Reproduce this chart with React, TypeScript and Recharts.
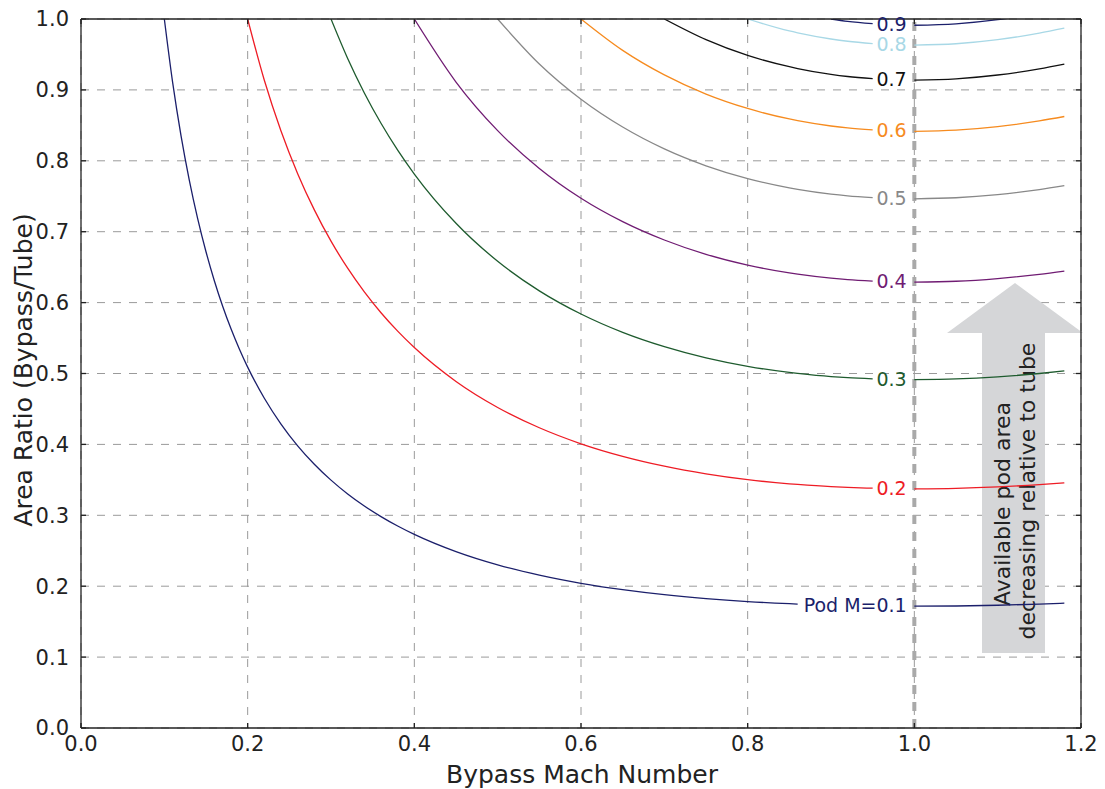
import { LineChart, Line, XAxis, YAxis, CartesianGrid, ReferenceLine, ReferenceArea, ReferenceDot } from 'recharts'

const n = null

// bypass Mach number grid (x)
const mach = [
  0.1, 0.11, 0.12, 0.13, 0.14, 0.15, 0.16, 0.17, 0.18, 0.19,
  0.2, 0.22, 0.24, 0.26, 0.28, 0.3, 0.32, 0.34, 0.36, 0.38,
  0.4, 0.45, 0.5, 0.55, 0.6, 0.65, 0.7, 0.75, 0.8, 0.85,
  0.86, 0.9, 0.92, 0.95, 0.975, 1.0, 1.05, 1.1, 1.15, 1.18,
]

// area ratio (bypass/tube) for each pod Mach number, null = no line / label gap
const pod01 = [
  1.0, 0.9102, 0.8355, 0.7724, 0.7184, 0.6717, 0.6309, 0.5949, 0.563, 0.5346,
  0.509, 0.4651, 0.4287, 0.398, 0.372, 0.3496, 0.3301, 0.3131, 0.2982, 0.2849,
  0.2731, 0.2488, 0.2301, 0.2156, 0.2041, 0.1951, 0.188, 0.1825, 0.1783, 0.1753,
  0.1748, n, n, n, n, 0.1718, 0.1721, 0.1731, 0.1748, 0.176,
]
const pod02 = [
  n, n, n, n, n, n, n, n, n, n,
  1.0, 0.9136, 0.8421, 0.7819, 0.7308, 0.6867, 0.6485, 0.6151, 0.5857, 0.5597,
  0.5366, 0.4888, 0.4521, 0.4235, 0.4009, 0.3832, 0.3693, 0.3585, 0.3503, 0.3444,
  0.3435, 0.3404, 0.3393, 0.3382, n, 0.3374, 0.3381, 0.3401, 0.3433, 0.3458,
]
const pod03 = [
  n, n, n, n, n, n, n, n, n, n,
  n, n, n, n, n, 1.0, 0.9443, 0.8957, 0.8529, 0.815,
  0.7813, 0.7119, 0.6583, 0.6166, 0.5839, 0.558, 0.5378, 0.522, 0.5101, 0.5015,
  0.5002, 0.4957, 0.4941, 0.4925, n, 0.4914, 0.4924, 0.4953, 0.5, 0.5036,
]
const pod04 = [
  n, n, n, n, n, n, n, n, n, n,
  n, n, n, n, n, n, n, n, n, n,
  1.0, 0.9111, 0.8426, 0.7892, 0.7472, 0.7142, 0.6883, 0.6681, 0.6529, 0.6419,
  0.6402, 0.6345, 0.6324, 0.6303, n, 0.6289, 0.6301, 0.6339, 0.6399, 0.6445,
]
const pod05 = [
  n, n, n, n, n, n, n, n, n, n,
  n, n, n, n, n, n, n, n, n, n,
  n, n, 1.0, 0.9366, 0.8868, 0.8476, 0.8168, 0.793, 0.7749, 0.7618,
  0.7597, 0.753, 0.7506, 0.748, n, 0.7464, 0.7479, 0.7523, 0.7594, 0.7649,
]
const pod06 = [
  n, n, n, n, n, n, n, n, n, n,
  n, n, n, n, n, n, n, n, n, n,
  n, n, n, n, 1.0, 0.9557, 0.9211, 0.8941, 0.8738, 0.859,
  0.8567, 0.8491, 0.8463, 0.8435, n, 0.8416, 0.8433, 0.8483, 0.8563, 0.8625,
]
const pod07 = [
  n, n, n, n, n, n, n, n, n, n,
  n, n, n, n, n, n, n, n, n, n,
  n, n, n, n, n, n, 1.0, 0.9708, 0.9486, 0.9327,
  0.9301, 0.9219, 0.9189, 0.9158, n, 0.9137, 0.9156, 0.921, 0.9297, 0.9364,
]
const pod08 = [
  n, n, n, n, n, n, n, n, n, n,
  n, n, n, n, n, n, n, n, n, n,
  n, n, n, n, n, n, n, n, 1.0, 0.9831,
  0.9805, 0.9718, 0.9686, 0.9653, n, 0.9632, 0.9651, 0.9708, 0.9801, 0.9871,
]
const pod09 = [
  n, n, n, n, n, n, n, n, n, n,
  n, n, n, n, n, n, n, n, n, n,
  n, n, n, n, n, n, n, n, n, n,
  n, 1.0, 0.9967, 0.9934, n, 0.9912, 0.9932, 0.999, 1.0085, 1.0158,
]

const seriesKeys = ['p01', 'p02', 'p03', 'p04', 'p05', 'p06', 'p07', 'p08', 'p09']
const seriesValues = [pod01, pod02, pod03, pod04, pod05, pod06, pod07, pod08, pod09]
const seriesColors = ['#1b1f6b', '#ee1c25', '#1e5b2e', '#701c73', '#888888', '#f68b1f', '#111111', '#a8d8e6', '#1b1f6b']

// inline contour labels
const labelText = ['Pod M=0.1', '0.2', '0.3', '0.4', '0.5', '0.6', '0.7', '0.8', '0.9']
const labelX = [0.929, 0.9726, 0.9726, 0.9726, 0.9726, 0.9726, 0.9726, 0.9726, 0.9726]
const labelY = [0.1735, 0.3377, 0.4919, 0.6295, 0.7471, 0.8424, 0.9146, 0.9641, 0.9922]

const xTicks = [0, 0.2, 0.4, 0.6, 0.8, 1.0, 1.2]
const yTicks = [0, 0.1, 0.2, 0.3, 0.4, 0.5, 0.6, 0.7, 0.8, 0.9, 1.0]

const rows = mach.map((m, i) => {
  const row: Record<string, number | null> = { m }
  seriesKeys.forEach((k, j) => { row[k] = seriesValues[j][i] })
  return row
})

const fmt = (v: number) => v.toFixed(1)

function ArrowShaft(props: any) {
  const { x, y, width, height } = props
  const cx = x + width / 2
  const cy = y + height / 2
  return (
    <g>
      <rect x={x} y={y} width={width} height={height} fill="#d5d6d8" />
      <text transform={`translate(${cx - 11.5},${cy + 11}) rotate(-90)`} textAnchor="middle" dominantBaseline="central" fontSize={22} fill="#222">
        Available pod area
      </text>
      <text transform={`translate(${cx + 13.5},${cy - 2}) rotate(-90)`} textAnchor="middle" dominantBaseline="central" fontSize={22} fill="#222">
        decreasing relative to tube
      </text>
    </g>
  )
}

function ArrowHead(props: any) {
  const { x, y, width, height } = props
  return <polygon points={`${x},${y + height} ${x + width / 2},${y} ${x + width},${y + height}`} fill="#d5d6d8" />
}

export default function App() {
  return (
    <div style={{ position: 'absolute', left: 0, top: 0, fontFamily: 'DejaVu Sans, sans-serif' }}>
      <LineChart width={1105} height={789} data={rows} margin={{ top: 18, right: 23, bottom: 0, left: 0 }}>
        <CartesianGrid stroke="#9a9a9a" strokeDasharray="8 8" strokeWidth={1} />
        <XAxis
          dataKey="m" type="number" domain={[0, 1.2]} ticks={xTicks} tickFormatter={fmt} allowDataOverflow
          height={61} stroke="#222" strokeWidth={1.3} tickSize={-5} tickMargin={13}
          tick={{ fontSize: 21, fill: '#222' }}
          label={{ content: ({ viewBox }: any) => (
            <text x={viewBox.x + viewBox.width / 2 + 1} y={774} textAnchor="middle" dominantBaseline="central" fontSize={25} fill="#222">Bypass Mach Number</text>
          ) }}
        />
        <XAxis xAxisId="top" dataKey="m" orientation="top" type="number" domain={[0, 1.2]} ticks={xTicks} tickFormatter={() => ''}
          height={1} stroke="#222" strokeWidth={1.3} tickSize={-5} allowDataOverflow />
        <YAxis
          type="number" domain={[0, 1]} ticks={yTicks} tickFormatter={fmt} allowDataOverflow
          width={81} stroke="#222" strokeWidth={1.3} tickSize={-5} tickMargin={17}
          tick={{ fontSize: 21, fill: '#222' }}
          label={{ content: () => (
            <text transform="translate(23,370) rotate(-90)" textAnchor="middle" dominantBaseline="central" fontSize={25} fill="#222">Area Ratio (Bypass/Tube)</text>
          ) }}
        />
        <YAxis yAxisId="right" orientation="right" type="number" domain={[0, 1]} ticks={yTicks} tickFormatter={() => ''}
          width={1} stroke="#222" strokeWidth={1.3} tickSize={-5} allowDataOverflow />
        <ReferenceLine x={1} stroke="#a9a9a9" strokeWidth={4} strokeDasharray="9 8" />
        {seriesKeys.map((k, j) => (
          <Line key={k} dataKey={k} type="monotone" stroke={seriesColors[j]} strokeWidth={1.3} dot={false} activeDot={false} isAnimationActive={false} />
        ))}
        {labelText.map((t, j) => (
          <ReferenceDot key={t} x={labelX[j]} y={labelY[j]} r={1} fill="none" stroke="none"
            label={{ value: t, position: 'center', fill: seriesColors[j], fontSize: 19 }} />
        ))}
        <ReferenceArea x1={1.0812} x2={1.1568} y1={0.1058} y2={0.5571} shape={ArrowShaft} ifOverflow="hidden" />
        <ReferenceArea x1={1.0392} x2={1.2024} y1={0.5571} y2={0.6276} shape={ArrowHead} ifOverflow="hidden" />
      </LineChart>
    </div>
  )
}
